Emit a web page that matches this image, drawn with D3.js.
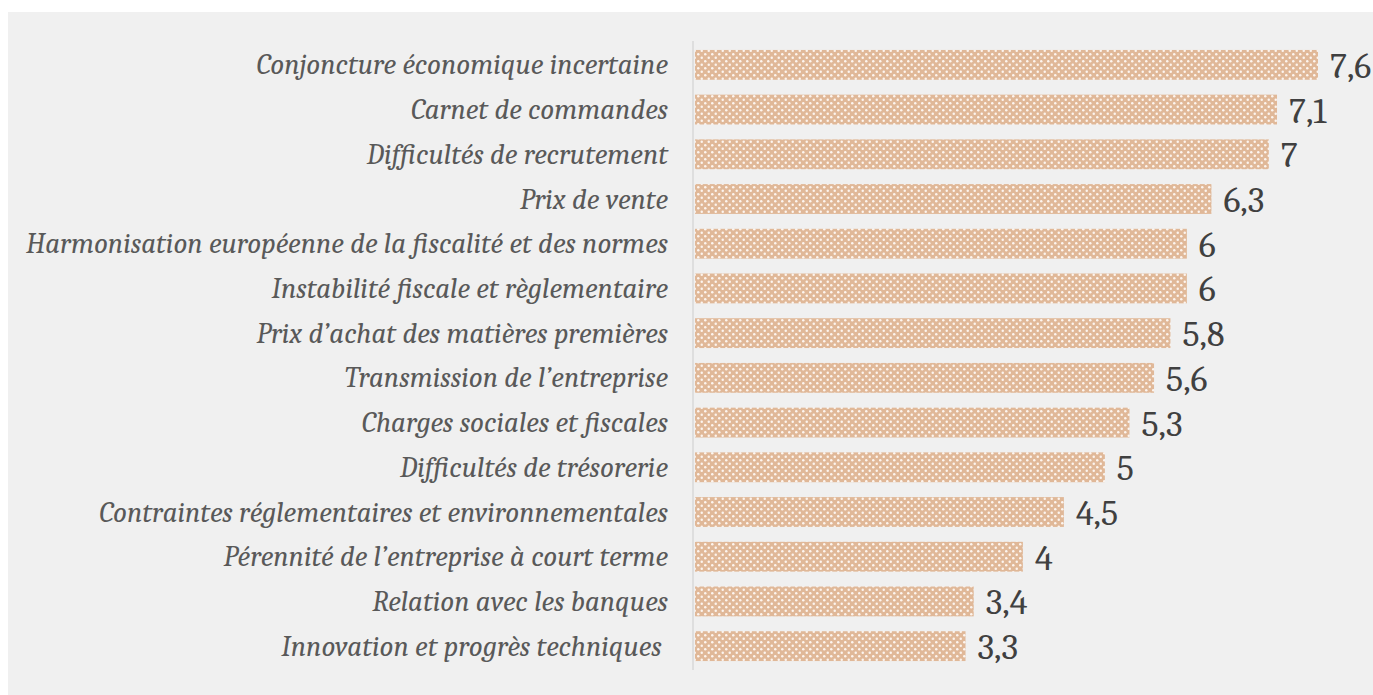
<!DOCTYPE html>
<html>
<head>
<meta charset="utf-8">
<script src="https://cdn.jsdelivr.net/npm/d3@7"></script>
<style>
  body { margin: 0; background: #ffffff; }
  .label { font-family: Cambria, "DejaVu Serif", serif; font-style: italic; fill: #595959; white-space: pre; }
  .value { font-family: Cambria, "DejaVu Serif", serif; fill: #404040; }
</style>
</head>
<body>
<div id="chart"></div>
<script>
// categories, top to bottom
var categories = [
  "Conjoncture économique incertaine",
  "Carnet de commandes",
  "Difficultés de recrutement",
  "Prix de vente",
  "Harmonisation européenne de la fiscalité et des normes",
  "Instabilité fiscale et règlementaire",
  "Prix d’achat des matières premières",
  "Transmission de l’entreprise",
  "Charges sociales et fiscales",
  "Difficultés de trésorerie",
  "Contraintes réglementaires et environnementales",
  "Pérennité de l’entreprise à court terme",
  "Relation avec les banques",
  "Innovation et progrès techniques "
];
var values = [7.6, 7.1, 7, 6.3, 6, 6, 5.8, 5.6, 5.3, 5, 4.5, 4, 3.4, 3.3];

var width = 1373, height = 695;
var margin = {top: 41, right: 0, bottom: 25, left: 695};

var svg = d3.select("#chart").append("svg")
    .attr("width", width)
    .attr("height", height);

// grey panel
svg.append("rect")
    .attr("x", 8).attr("y", 12)
    .attr("width", width - 8).attr("height", height - 12)
    .attr("fill", "#f0f0f0");

// dotted fill like the original
var defs = svg.append("defs");
var pat = defs.append("pattern")
    .attr("id", "dots")
    .attr("patternUnits", "userSpaceOnUse")
    .attr("width", 7).attr("height", 7);
pat.append("rect").attr("width", 7).attr("height", 7).attr("fill", "#e0b898");
pat.append("circle").attr("cx", 1.75).attr("cy", 1.75).attr("r", 1.25).attr("fill", "#fdf5ef");
pat.append("circle").attr("cx", 5.25).attr("cy", 5.25).attr("r", 1.25).attr("fill", "#fdf5ef");

var x = d3.scaleLinear().domain([0, 7.6]).range([margin.left, 1318]);
var y = d3.scaleBand().domain(categories)
    .range([margin.top, height - margin.bottom])
    .paddingInner(0.333).paddingOuter(0.2);

svg.selectAll(".bar")
    .data(values)
  .enter().append("rect")
    .attr("class", "bar")
    .attr("x", x(0))
    .attr("y", function(d, i) { return y(categories[i]); })
    .attr("width", function(d) { return x(d) - x(0); })
    .attr("height", y.bandwidth())
    .attr("fill", "url(#dots)");

// axis line
svg.append("line")
    .attr("x1", margin.left - 2).attr("x2", margin.left - 2)
    .attr("y1", margin.top).attr("y2", height - margin.bottom)
    .attr("stroke", "#d9d9d9").attr("stroke-width", 1.5);

svg.selectAll(".label")
    .data(categories)
  .enter().append("text")
    .attr("class", "label")
    .attr("x", 668)
    .attr("y", function(d) { return y(d) + y.bandwidth() / 2; })
    .attr("dy", "0.33em")
    .attr("text-anchor", "end")
    .style("font-size", "28.8px")
    .text(function(d) { return d; });

svg.selectAll(".value")
    .data(values)
  .enter().append("text")
    .attr("class", "value")
    .attr("x", function(d) { return x(d) + 12; })
    .attr("y", function(d, i) { return y(categories[i]) + y.bandwidth() / 2; })
    .attr("dy", "0.36em")
    .style("font-size", "36px")
    .text(function(d) { return String(d).replace(".", ","); });
</script>
</body>
</html>
